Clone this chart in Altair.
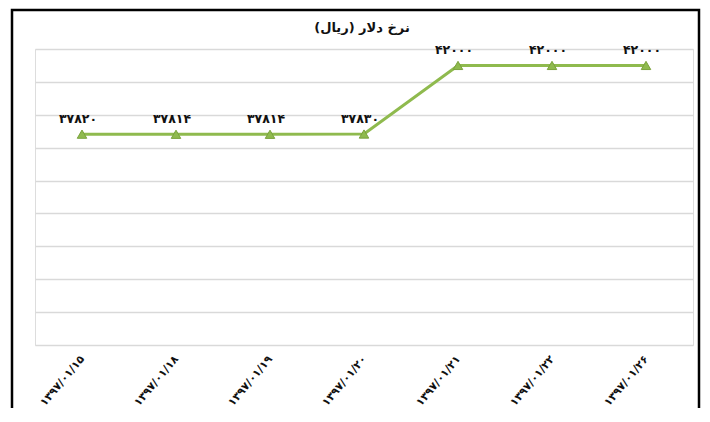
import altair as alt
import pandas as pd

dates = ["1397/01/15", "1397/01/18", "1397/01/19", "1397/01/20",
         "1397/01/21", "1397/01/22", "1397/01/26"]
rates = [37820, 37814, 37814, 37830, 42000, 42000, 42000]
title_text = "نرخ دلار (ریال)"

fa = str.maketrans("0123456789", "۰۱۲۳۴۵۶۷۸۹")
df = pd.DataFrame({
    "date": [d.translate(fa) for d in dates],
    "rate": rates,
    "label": [str(v).translate(fa) for v in rates],
})
order = list(df["date"])

FONT = "DejaVu Sans"
GREEN = "#8FBA4E"

x = alt.X("date:O", sort=order,
          scale=alt.Scale(type="point", padding=0.5),
          axis=alt.Axis(title=None, labelAngle=310, labelAlign="right",
                        labelBaseline="middle", labelPadding=12,
                        labelFont=FONT, labelFontSize=11, labelFontWeight="bold",
                        labelColor="#111111", domain=False, ticks=False, grid=False))
y = alt.Y("rate:Q",
          scale=alt.Scale(domain=[25000, 43000], nice=False, zero=False),
          axis=alt.Axis(title=None, values=list(range(25000, 43001, 2000)),
                        labels=False, ticks=False, domain=False, grid=True,
                        gridColor="#D9D9D9", gridWidth=1.5))

base = alt.Chart(df)
line = base.mark_line(color=GREEN, strokeWidth=3).encode(x=x, y=y)
pts = base.mark_point(shape="triangle-up", filled=True, size=90, color=GREEN,
                      stroke="#7AA23C", strokeWidth=1, opacity=1).encode(x=x, y=y)
txt = base.mark_text(dy=-15, dx=-4, font=FONT, fontSize=12.5, fontWeight="bold",
                     color="#111111").encode(x=x, y=y, text="label:N")
single = alt.Data(values=[{"t": title_text}])
frame = alt.Chart(single).mark_rect(
    fill=None, stroke="black", strokeWidth=2.5, clip=False).encode(
    x=alt.value(-23), x2=alt.value(664), y=alt.value(-39), y2=alt.value(400))
title = alt.Chart(single).mark_text(
    font=FONT, fontSize=13, fontWeight="bold", color="#111111",
    baseline="middle", align="center", clip=False).encode(
    x=alt.value(327), y=alt.value(-21), text="t:N")

chart = alt.layer(line, pts, txt, frame, title).properties(
    width=658, height=296,
    autosize=alt.AutoSizeParams(type="none"),
    padding={"left": 27, "top": 41, "right": 8, "bottom": 63},
).configure_view(stroke=None).configure(background="white")

chart.save("out.html", embed_options={"renderer": "svg", "actions": False})
